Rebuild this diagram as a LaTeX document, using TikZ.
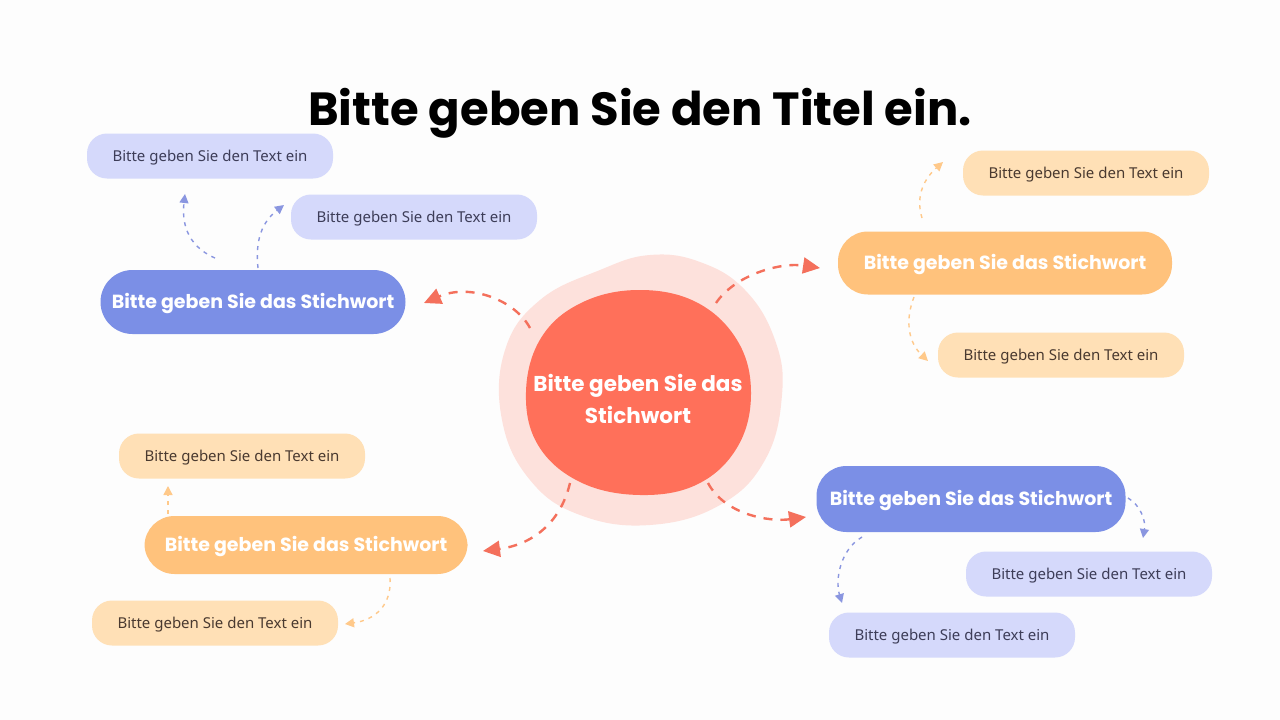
\documentclass[tikz,border=0pt]{standalone}
\usepackage{fontspec}
\setmainfont{Noto Sans}
\newfontfamily\headfont{Poppins}
\usetikzlibrary{arrows.meta}
\definecolor{bgc}{HTML}{FDFDFD}
\definecolor{kwblue}{HTML}{7B8FE6}
\definecolor{lblue}{HTML}{D5D9FB}
\definecolor{ablue}{HTML}{8A96E0}
\definecolor{kworange}{HTML}{FFC27C}
\definecolor{lorange}{HTML}{FFE0B6}
\definecolor{aorange}{HTML}{FFC98A}
\definecolor{coral}{HTML}{FF705A}
\definecolor{pinkc}{HTML}{FDE1DC}
\definecolor{ared}{HTML}{F4705C}
\definecolor{tblue}{HTML}{3D3D58}
\definecolor{tbrown}{HTML}{4A3A30}
\tikzset{
  kwbox/.style={rounded corners=30pt, minimum width=#1, minimum height=64pt, text=white, font=\headfont\bfseries\fontsize{19}{22}\selectfont, inner sep=0pt, text height=13.5pt, text depth=0pt},
  tbox/.style={rounded corners=20pt, minimum width=246pt, minimum height=45pt, font=\fontsize{15}{18}\selectfont, inner sep=0pt, text height=10.5pt, text depth=0pt},
  bluebox/.style={tbox, fill=lblue, text=tblue},
  orangebox/.style={tbox, fill=lorange, text=tbrown},
  redarrow/.style={ared, line width=2.4pt, dash pattern=on 9pt off 8pt, -{Triangle[length=17pt,width=16pt]}},
  bluearrow/.style={ablue, line width=1.4pt, dash pattern=on 4pt off 5pt, -{Triangle[length=9pt,width=9pt]}},
  orangearrow/.style={aorange, line width=1.4pt, dash pattern=on 4pt off 5pt, -{Triangle[length=9pt,width=9pt]}}
}
\begin{document}
\begin{tikzpicture}[x=1pt,y=-1pt]
\fill[bgc] (0,0) rectangle (1280,720);
\useasboundingbox (0,0) rectangle (1280,720);

% title
\node[anchor=base, font=\headfont\bfseries\fontsize{46.5}{52}\selectfont] (title) at (640,125) {Bitte geben Sie den Titel ein.};

% center blob
\fill[pinkc] plot[smooth cycle, tension=0.7] coordinates {(600,270) (650,255) (700,262) (745,290) (775,340) (782,395) (765,460) (720,505) (650,525) (580,515) (530,480) (502,420) (505,350) (540,300)};
\fill[coral] plot[smooth cycle, tension=0.65] coordinates {(751,392) (737,340) (696,302) (638,290) (581,303) (541,338) (526,392) (538,445) (580,482) (640,495) (698,484) (738,446)};
\node[align=center, text=white, font=\headfont\bfseries\fontsize{21.5}{32}\selectfont] (center) at (638,399) {Bitte geben Sie das\\Stichwort};

% keywords
\node[kwbox=305pt, fill=kwblue, rounded corners=32pt] (kwTL) at (253,302) {Bitte geben Sie das Stichwort};
\node[kwbox=334pt, fill=kworange, minimum height=63pt] (kwTR) at (1005,263) {Bitte geben Sie das Stichwort};
\node[kwbox=323pt, fill=kworange, minimum height=58pt] (kwBL) at (306,545) {Bitte geben Sie das Stichwort};
\node[kwbox=309pt, fill=kwblue, minimum height=66pt] (kwBR) at (971,499) {Bitte geben Sie das Stichwort};

% text boxes
\node[bluebox] (tTL1) at (210,156) {Bitte geben Sie den Text ein};
\node[bluebox] (tTL2) at (414,217) {Bitte geben Sie den Text ein};
\node[orangebox] (tTR1) at (1086,173) {Bitte geben Sie den Text ein};
\node[orangebox] (tTR2) at (1061,355) {Bitte geben Sie den Text ein};
\node[orangebox] (tBL1) at (242,456) {Bitte geben Sie den Text ein};
\node[orangebox] (tBL2) at (215,623) {Bitte geben Sie den Text ein};
\node[bluebox] (tBR1) at (1089,574) {Bitte geben Sie den Text ein};
\node[bluebox] (tBR2) at (952,635) {Bitte geben Sie den Text ein};

% red connectors
\coordinate (cTL) at (530,328);
\coordinate (cTR) at (716,303);
\coordinate (cBL) at (570,483);
\coordinate (cBR) at (708,483);
\coordinate (eTL) at (424,303);
\coordinate (eTR) at (820,268);
\coordinate (eBL) at (483,551);
\coordinate (eBR) at (806,517);
\draw[redarrow] (cTL) .. controls (515,300) and (470,283) .. (eTL);
\draw[redarrow] (cTR) .. controls (735,275) and (780,262) .. (eTR);
\draw[redarrow] (cBL) .. controls (560,525) and (530,545) .. (eBL);
\draw[redarrow] (cBR) .. controls (725,515) and (770,522) .. (eBR);

% small connectors
\coordinate (sTL1) at (215,258); \coordinate (eTL1) at (185,194);
\coordinate (sTL2) at (258,268); \coordinate (eTL2) at (284,205);
\coordinate (sTR1) at (922,218); \coordinate (eTR1) at (943,162);
\coordinate (sTR2) at (914,297); \coordinate (eTR2) at (928,361);
\coordinate (sBL1) at (168,514); \coordinate (eBL1) at (168,486);
\coordinate (sBL2) at (390,578); \coordinate (eBL2) at (345,624);
\coordinate (sBR1) at (1128,498); \coordinate (eBR1) at (1143,538);
\coordinate (sBR2) at (862,537); \coordinate (eBR2) at (842,603);
\draw[bluearrow] (sTL1) .. controls (185,245) and (182,220) .. (eTL1);
\draw[bluearrow] (sTL2) .. controls (255,240) and (262,222) .. (eTL2);
\draw[orangearrow] (sTR1) .. controls (915,195) and (925,178) .. (eTR1);
\draw[orangearrow] (sTR2) .. controls (905,320) and (908,342) .. (eTR2);
\draw[orangearrow] (sBL1) -- (eBL1);
\draw[orangearrow] (sBL2) .. controls (392,605) and (375,620) .. (eBL2);
\draw[bluearrow] (sBR1) .. controls (1140,505) and (1146,520) .. (eBR1);
\draw[bluearrow] (sBR2) .. controls (840,550) and (835,580) .. (eBR2);
\end{tikzpicture}
\end{document}
